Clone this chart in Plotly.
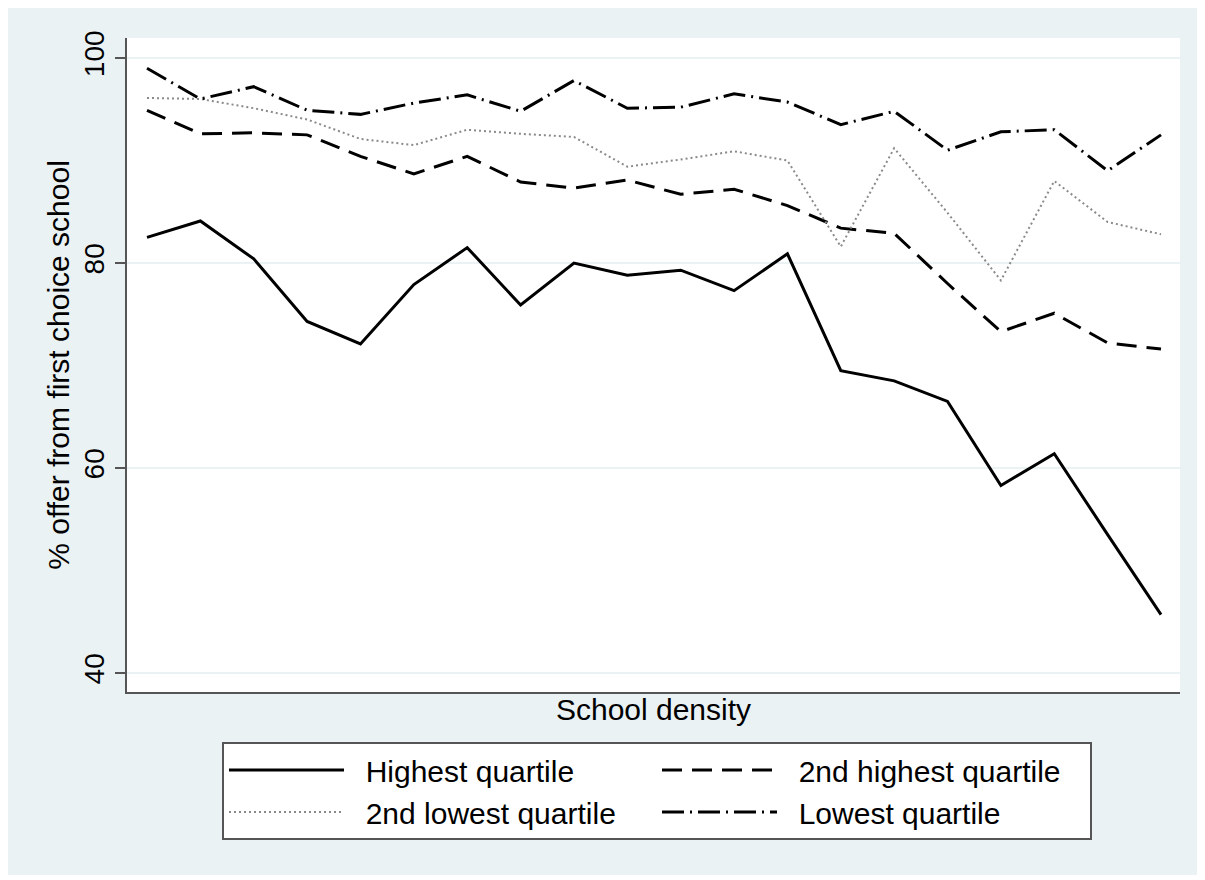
import plotly.graph_objects as go

# School density bins (ordered, low to high); no tick labels are shown
density_bin = list(range(1, 21))

# % receiving an offer from their first choice school, by quartile
highest_quartile = [82.5, 84.1, 80.4, 74.3, 72.1, 77.9, 81.5, 75.9, 80.0, 78.8,
                    79.3, 77.3, 80.9, 69.5, 68.5, 66.5, 58.3, 61.4, 53.5, 45.7]
second_highest_quartile = [94.9, 92.6, 92.7, 92.5, 90.4, 88.7, 90.4, 87.9, 87.3, 88.1,
                           86.7, 87.2, 85.6, 83.4, 82.9, 78.0, 73.3, 75.1, 72.2, 71.6]
second_lowest_quartile = [96.1, 96.0, 95.1, 94.0, 92.1, 91.5, 93.0, 92.6, 92.3, 89.4,
                          90.1, 90.9, 90.0, 81.6, 91.2, 84.9, 78.3, 88.0, 84.0, 82.8]
lowest_quartile = [99.0, 96.0, 97.2, 94.9, 94.5, 95.6, 96.4, 94.8, 97.8, 95.1,
                   95.2, 96.5, 95.7, 93.5, 94.8, 91.0, 92.8, 93.0, 89.0, 92.5]

y_ticks = [40, 60, 80, 100]

FONT = "Liberation Sans, Arial, sans-serif"
BG = "#EAF2F3"
PAD = "  "  # gap between legend key and its label

series = [
    ("Highest quartile", highest_quartile, dict(color="black", width=3, dash="solid")),
    ("2nd highest quartile", second_highest_quartile, dict(color="black", width=3, dash="20px,10px")),
    ("2nd lowest quartile", second_lowest_quartile, dict(color="#8a8a8a", width=2, dash="2px,3px")),
    ("Lowest quartile", lowest_quartile, dict(color="black", width=3, dash="22px,6px,2px,6px")),
]

fig = go.Figure()
for name, values, line in series:
    fig.add_trace(go.Scatter(x=density_bin, y=values, mode="lines", name=PAD + name, line=line))

W, H = 1205, 880
L, R, T, B = 127, 25, 38, 188
pw, ph = W - L - R, H - T - B


def px_x(v):
    return (v - L) / pw


def px_y(v):
    return (H - B - v) / ph


fig.update_layout(
    width=W, height=H,
    margin=dict(l=L, r=R, t=T, b=B, pad=0),
    paper_bgcolor="white",
    plot_bgcolor="white",
    font=dict(family=FONT, color="black"),
    shapes=[
        # outer graph region
        dict(type="rect", xref="paper", yref="paper", layer="below",
             x0=px_x(8), x1=px_x(1197), y0=px_y(875), y1=px_y(8),
             fillcolor=BG, line=dict(width=0)),
        # plot region
        dict(type="rect", xref="paper", yref="paper", layer="below",
             x0=0, x1=1, y0=0, y1=1, fillcolor="white", line=dict(width=0)),
    ],
    xaxis=dict(
        range=[0.625, 20.356], showticklabels=False, ticks="", showgrid=False,
        zeroline=False, showline=True, linecolor="#555555", linewidth=2,
        title=dict(text="School density", font=dict(size=30), standoff=6),
    ),
    yaxis=dict(
        range=[38.15, 101.95], tickvals=y_ticks, ticks="outside", ticklen=10,
        tickwidth=1.5, tickcolor="#555555", tickangle=-90,
        tickfont=dict(size=28), showgrid=True, gridcolor=BG, gridwidth=1.5,
        zeroline=False, showline=True, linecolor="#555555", linewidth=2,
        title=dict(text="% offer from first choice school", font=dict(size=30), standoff=0),
    ),
    legend=dict(
        orientation="h", x=px_x(222), y=px_y(742), xanchor="left", yanchor="top",
        bgcolor="white", bordercolor="#555555", borderwidth=2,
        font=dict(size=30), itemwidth=115, entrywidth=303, entrywidthmode="pixels",
        traceorder="normal",
    ),
)

fig.write_html("out.html")
